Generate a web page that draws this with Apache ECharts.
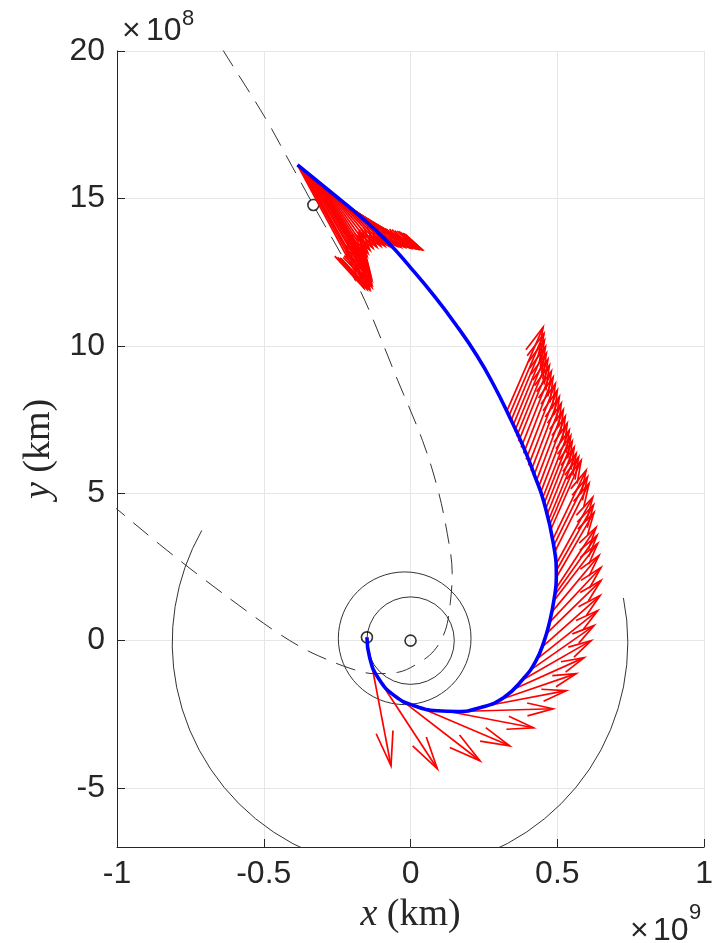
<!DOCTYPE html>
<html><head><meta charset="utf-8">
<script src="https://cdn.jsdelivr.net/npm/echarts@6.0.0/dist/echarts.min.js"></script>
<style>html,body{margin:0;padding:0;background:#fff}#c{width:716px;height:943px}</style>
</head><body><div id="c"></div>
<script>
// x values in units of 1e9 km, y values in units of 1e8 km
const xTicks = [-1, -0.5, 0, 0.5, 1];
const yTicks = [-5, 0, 5, 10, 15, 20];

// transfer trajectory (blue)
const trajX = [-0.1486,-0.1395,-0.1115,-0.0551,0.0125,0.0912,0.1588,0.2365,0.3166,0.3841,0.4257,0.4544,0.4747,0.4882,0.4966,0.4865,0.4527,0.4223,0.3851,0.3378,0.2838,0.2264,0.1520,0.0811,0.0000,-0.0777,-0.1689,-0.2804,-0.3851];
const trajY = [0.112,-0.567,-1.247,-1.868,-2.208,-2.378,-2.402,-2.276,-1.936,-1.291,-0.713,-0.034,0.679,1.359,2.140,3.295,4.755,5.605,6.556,7.575,8.662,9.664,10.751,11.685,12.653,13.519,14.368,15.285,16.135];

// target orbit (dashed)
const targetX = [-0.6966,-0.6328,-0.4943,-0.4155,-0.3311,-0.1723,-0.0439,0.0405,0.0912,0.125,0.1419,0.1351,0.1182,0.0801,0.0236,-0.0439,-0.1226,-0.2027,-0.3142,-0.3818,-0.4662,-0.5507,-0.7196,-0.8547,-1.001,-1.0912];
const targetY = [20.958,19.929,17.721,16.304,14.776,11.889,8.832,6.793,5.197,3.635,2.276,1.257,0.340,-0.340,-0.781,-1.077,-1.121,-0.951,-0.513,-0.173,0.353,0.948,2.204,3.264,4.470,5.231];

// planetary orbits: centre (x 1e9 km, y 1e8 km), radius (1e8 km), drawn angle range (deg)
const orbitCx = [0, -0.020, -0.0358];
const orbitCy = [0, 0.08, -0.068];
const orbitR = [1.49, 2.26, 7.76];
const orbitStart = [0, 0, 150.5];
const orbitEnd = [360, 360, 371.3];

// markers: Sun, departure, arrival
const markX = [0, -0.1486, -0.3311];
const markY = [0, 0.112, 14.776];

// thrust arrows (tail and head)
const arrowTailX = [-0.1395,-0.1115,-0.0507,0.0338,
 0.125,0.1926,0.2601,0.3142,0.3547,0.3885,0.4155,0.4324,0.4459,0.4595,0.4696,0.4797,0.4865,0.4932,0.4966,0.4932,0.4899,0.4831,0.4764,0.4696,0.4595,0.4493,0.4358,0.4189,0.402,0.3851,0.3682,0.3547,0.3412,0.3277,
 0.4645,0.4544,0.4426,0.4274,0.4105,0.3936,0.3767,0.3615,0.3480,0.3345,0.4899,0.4949,0.4865,0.4730,
 -0.3851,-0.3784,-0.3716,-0.3649,-0.3581,-0.3514,-0.3446,-0.3378,-0.3311,-0.3243,-0.3176,-0.3108,-0.3041,-0.2973,-0.2905,-0.2838,-0.2770,-0.2703,-0.2635,-0.2568,-0.2500,-0.2432,-0.2365,-0.2297,-0.2230,-0.2162,-0.2095,-0.2027,-0.1959,-0.1892,-0.1824,-0.1757,-0.1689,-0.1622,-0.1554,-0.1486];
const arrowTailY = [-0.4416,-1.257,-1.868,-2.276,
 -2.395,-2.395,-2.208,-1.970,-1.630,-1.291,-0.951,-0.611,-0.238,0.204,0.577,0.951,1.325,1.732,2.140,2.548,2.989,3.397,3.736,4.076,4.450,4.823,5.197,5.571,5.944,6.352,6.760,7.099,7.439,7.779,
 4.263,4.637,5.010,5.384,5.757,6.148,6.556,6.929,7.269,7.609,1.529,2.344,3.193,3.906,
 16.134,16.079,16.024,15.969,15.914,15.859,15.804,15.749,15.694,15.639,15.584,15.529,15.474,15.419,15.364,15.309,15.254,15.199,15.143,15.088,15.033,14.978,14.923,14.868,14.813,14.758,14.703,14.648,14.593,14.538,14.483,14.428,14.373,14.318,14.263,14.208];
const arrowHeadX = [-0.0666,0.0912,0.2365,0.3378,
 0.4189,0.4855,0.5304,0.5642,0.5912,0.6149,0.625,0.6375,0.6453,0.6486,0.6486,0.6419,0.6375,0.6318,0.625,0.6206,0.6081,0.598,0.5811,0.5642,0.5507,0.5405,0.527,0.5135,0.5,0.4855,0.473,0.4628,0.4561,0.4517,
 0.5574,0.5456,0.5338,0.5203,0.5068,0.4932,0.4797,0.4679,0.4595,0.4544,0.6351,0.6233,0.6030,0.5726,
 -0.1588,-0.1486,-0.1419,-0.1385,-0.1318,-0.1318,-0.1318,-0.1351,-0.1385,-0.1419,-0.1453,-0.1486,-0.1486,-0.1453,-0.1385,-0.1284,-0.1149,-0.1014,-0.0878,-0.0743,-0.0608,-0.0473,-0.0338,-0.0203,-0.0101,0.0000,0.0101,0.0169,0.0236,0.0304,0.0338,0.0372,0.0372,0.0372,0.0338,0.0338];
const arrowHeadY = [-4.246,-4.348,-4.076,-3.567,
 -2.955,-2.310,-1.698,-1.121,-0.577,0.000,0.510,1.019,1.529,2.038,2.480,2.887,3.295,3.838,4.348,4.857,5.333,5.774,6.114,6.352,6.760,7.133,7.609,8.050,8.492,8.933,9.341,9.749,10.190,10.632,
 6.556,6.946,7.371,7.829,8.271,8.713,9.137,9.545,9.969,10.411,3.567,4.603,5.554,6.233,
 11.957,11.923,11.923,11.923,11.990,12.092,12.228,12.364,12.500,12.636,12.772,12.908,13.043,13.145,13.247,13.315,13.349,13.383,13.383,13.383,13.383,13.383,13.349,13.349,13.349,13.315,13.315,13.315,13.281,13.281,13.281,13.281,13.281,13.281,13.281,13.281];

const INK = '#262626';
const SANS = '"Liberation Sans", Arial, Helvetica, sans-serif';
const SERIF = '"Liberation Serif", "Times New Roman", serif';

const chart = echarts.init(document.getElementById('c'), null, {renderer: 'canvas'});

const orbitData = orbitCx.map((c, i) => [c, orbitCy[i], orbitR[i], orbitStart[i], orbitEnd[i]]);
const arrowData = arrowTailX.map((x, i) => [x, arrowTailY[i], arrowHeadX[i], arrowHeadY[i]]);

chart.setOption({
  animation: false,
  backgroundColor: '#fff',
  grid: {left: 117, right: 7, top: 51, bottom: 96, containLabel: false},
  xAxis: {
    type: 'value', min: -1, max: 1, interval: 0.5,
    name: '{i|x} (km)', nameLocation: 'middle', nameGap: 49,
    nameTextStyle: {fontFamily: SERIF, fontSize: 38, color: INK,
      rich: {i: {fontFamily: SERIF, fontStyle: 'italic', fontSize: 38, color: INK}}},
    axisLine: {show: true, onZero: false, lineStyle: {color: INK, width: 1}},
    axisTick: {show: true, inside: true, length: 8, lineStyle: {color: INK}},
    axisLabel: {fontFamily: SANS, fontSize: 32, color: INK, margin: 11},
    splitLine: {show: true, lineStyle: {color: '#e6e6e6', width: 1}}
  },
  yAxis: {
    type: 'value', min: -7, max: 20,
    name: '{i|y} (km)', nameLocation: 'middle', nameGap: 52,
    nameTextStyle: {fontFamily: SERIF, fontSize: 38, color: INK,
      rich: {i: {fontFamily: SERIF, fontStyle: 'italic', fontSize: 38, color: INK}}},
    axisLine: {show: true, onZero: false, lineStyle: {color: INK, width: 1}},
    axisTick: {show: true, inside: true, length: 8, lineStyle: {color: INK}, customValues: yTicks},
    axisLabel: {fontFamily: SANS, fontSize: 32, color: INK, margin: 12, customValues: yTicks},
    splitLine: {show: true, lineStyle: {color: '#e6e6e6', width: 1}}
  },
  graphic: [
    {type: 'text', left: 122, top: 15, style: {text: '×', font: '32px ' + SANS, fill: INK}},
    {type: 'text', left: 146, top: 15, style: {text: '10', font: '32px ' + SANS, fill: INK}},
    {type: 'text', left: 182, top: 8, style: {text: '8', font: '22px ' + SANS, fill: INK}},
    {type: 'text', left: 630, top: 915, style: {text: '×', font: '32px ' + SANS, fill: INK}},
    {type: 'text', left: 653, top: 915, style: {text: '10', font: '32px ' + SANS, fill: INK}},
    {type: 'text', left: 689, top: 902, style: {text: '9', font: '22px ' + SANS, fill: INK}}
  ],
  series: [
    {
      type: 'custom', name: 'orbits', z: 1, clip: true, silent: true,
      data: orbitData,
      renderItem: function (params, api) {
        const c = api.coord([api.value(0), api.value(1)]);
        const r = api.size([api.value(2) / 10, 0])[0];
        const a0 = api.value(3) * Math.PI / 180, a1 = api.value(4) * Math.PI / 180;
        return {type: 'arc', shape: {cx: c[0], cy: c[1], r: r, startAngle: -a1, endAngle: -a0, clockwise: true},
          style: {stroke: '#333', lineWidth: 1, fill: null}};
      }
    },
    {
      type: 'line', name: 'target', z: 1, silent: true, showSymbol: false, smooth: 0.35,
      data: targetX.map((x, i) => [x, targetY[i]]),
      lineStyle: {color: '#333', width: 1, type: [20, 11]}
    },
    {
      type: 'scatter', name: 'markers', z: 2, silent: true, symbol: 'circle', symbolSize: 11,
      data: markX.map((x, i) => [x, markY[i]]),
      itemStyle: {color: 'rgba(0,0,0,0)', borderColor: '#000', borderWidth: 1.6}
    },
    {
      type: 'custom', name: 'thrust', z: 3, clip: true, silent: true,
      data: arrowData,
      renderItem: function (params, api) {
        const t = api.coord([api.value(0), api.value(1)]);
        const h = api.coord([api.value(2), api.value(3)]);
        const ux = h[0] - t[0], uy = h[1] - t[1];
        const a = 0.3, b = 0.25;
        const b1 = [h[0] - a * (ux - b * uy), h[1] - a * (uy + b * ux)];
        const b2 = [h[0] - a * (ux + b * uy), h[1] - a * (uy - b * ux)];
        const st = {stroke: '#ff0000', lineWidth: 1.7, fill: null};
        return {type: 'group', children: [
          {type: 'polyline', shape: {points: [t, h]}, style: st},
          {type: 'polyline', shape: {points: [b1, h, b2]}, style: st}
        ]};
      }
    },
    {
      type: 'line', name: 'trajectory', z: 4, silent: true, showSymbol: false, smooth: 0.5,
      data: trajX.map((x, i) => [x, trajY[i]]),
      lineStyle: {color: '#0000ff', width: 3.6}
    }
  ]
});
</script></body></html>
